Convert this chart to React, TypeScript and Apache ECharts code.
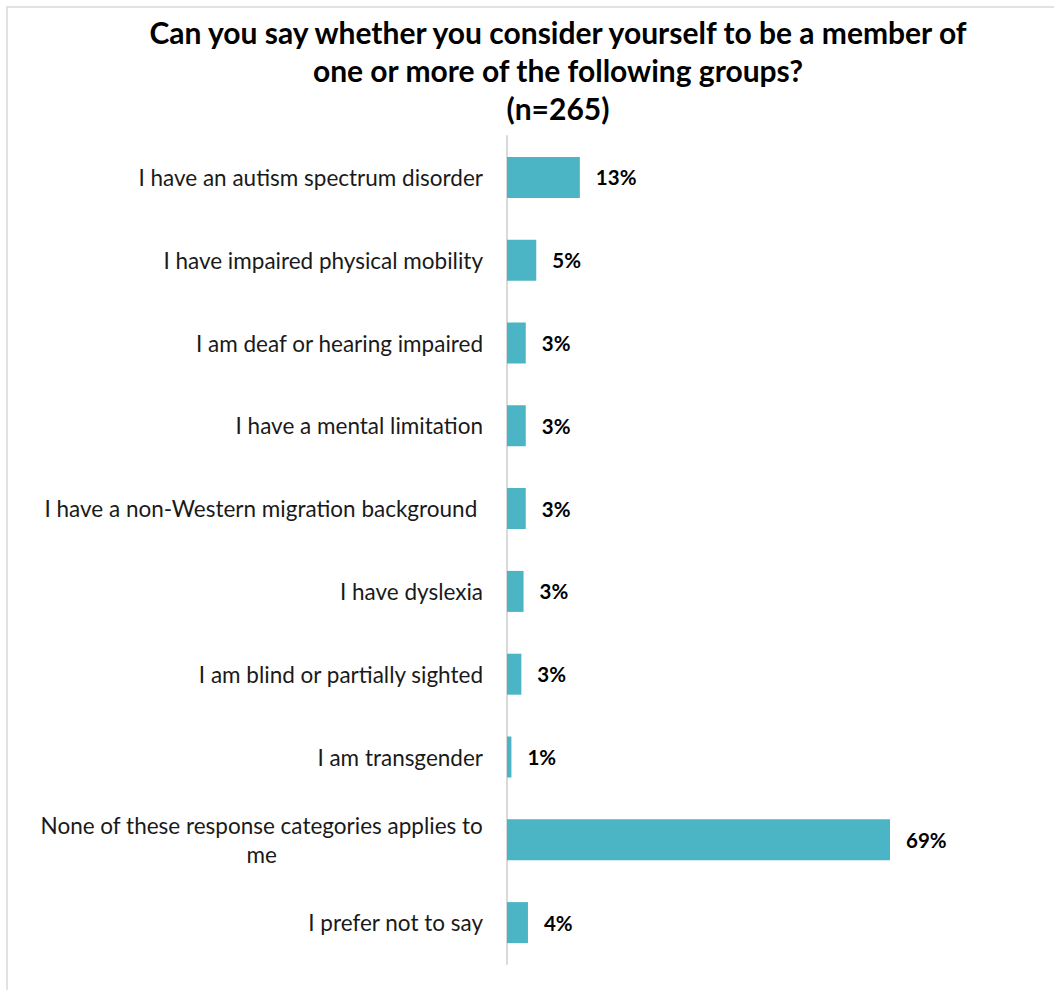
import React, { useEffect, useRef } from "react";
import * as echarts from "echarts";

const titleLines = [
  "Can you say whether you consider yourself to be a member of",
  "one or more of the following groups?",
  "(n=265)",
];

const categories = [
  "I have an autism spectrum disorder",
  "I have impaired physical mobility",
  "I am deaf or hearing impaired",
  "I have a mental limitation",
  "I have a non-Western migration background ",
  "I have dyslexia",
  "I am blind or partially sighted",
  "I am transgender",
  "None of these response categories applies to\nme",
  "I prefer not to say",
];

const values = [13.2, 5.3, 3.4, 3.4, 3.4, 3.0, 2.6, 0.8, 69.4, 3.8];

const FONT = "Lato, 'Open Sans', sans-serif";

export default function App() {
  const ref = useRef<HTMLDivElement>(null);

  useEffect(() => {
    if (!ref.current) return;
    const chart = echarts.init(ref.current, undefined, { renderer: "svg" });
    chart.setOption({
      animation: false,
      backgroundColor: "#ffffff",
      textStyle: { fontFamily: FONT },
      graphic: [
        {
          type: "rect",
          shape: { x: 7, y: 7, width: 1100, height: 1100 },
          style: { fill: "none", stroke: "#d9d9d9", lineWidth: 1.5 },
          silent: true,
          z: -1,
        },
        {
          type: "text",
          x: 558,
          y: 13,
          style: {
            text: titleLines.join("\n"),
            fontFamily: FONT,
            fontWeight: "bold",
            fontSize: 30,
            lineHeight: 38,
            fill: "#000000",
            align: "center",
            verticalAlign: "top",
          },
        },
      ],
      grid: { left: 507, top: 136, right: 105.5, bottom: 26, containLabel: false },
      xAxis: {
        type: "value",
        min: 0,
        max: 80,
        show: false,
        splitLine: { show: false },
      },
      yAxis: {
        type: "category",
        data: categories,
        inverse: true,
        axisLine: { show: true, lineStyle: { color: "#d9d9d9", width: 2 } },
        axisTick: { show: false },
        axisLabel: {
          margin: 24,
          fontFamily: FONT,
          fontSize: 22.5,
          color: "#1a1a1a",
          lineHeight: 29,
          formatter: (v: string) => {
            const parts = v.split("\n");
            if (parts.length === 1) return "{a|" + v + "}";
            return parts.map((p) => "{c|" + p + "}").join("\n");
          },
          rich: {
            a: { fontFamily: FONT, fontSize: 22.5, color: "#1a1a1a", lineHeight: 29 },
            c: { fontFamily: FONT, fontSize: 22.5, color: "#1a1a1a", lineHeight: 29, align: "center" },
          },
        },
      },
      series: [
        {
          type: "bar",
          data: values,
          barWidth: 41,
          itemStyle: { color: "#4bb5c5" },
          label: {
            show: true,
            position: "right",
            distance: 16,
            fontFamily: FONT,
            fontWeight: "bold",
            fontSize: 20.5,
            color: "#000000",
            formatter: (p: any) => Math.round(p.value) + "%",
          },
        },
      ],
    });
    return () => chart.dispose();
  }, []);

  return (
    <div
      ref={ref}
      style={{ position: "absolute", left: 0, top: 0, width: 1054, height: 990 }}
    />
  );
}
